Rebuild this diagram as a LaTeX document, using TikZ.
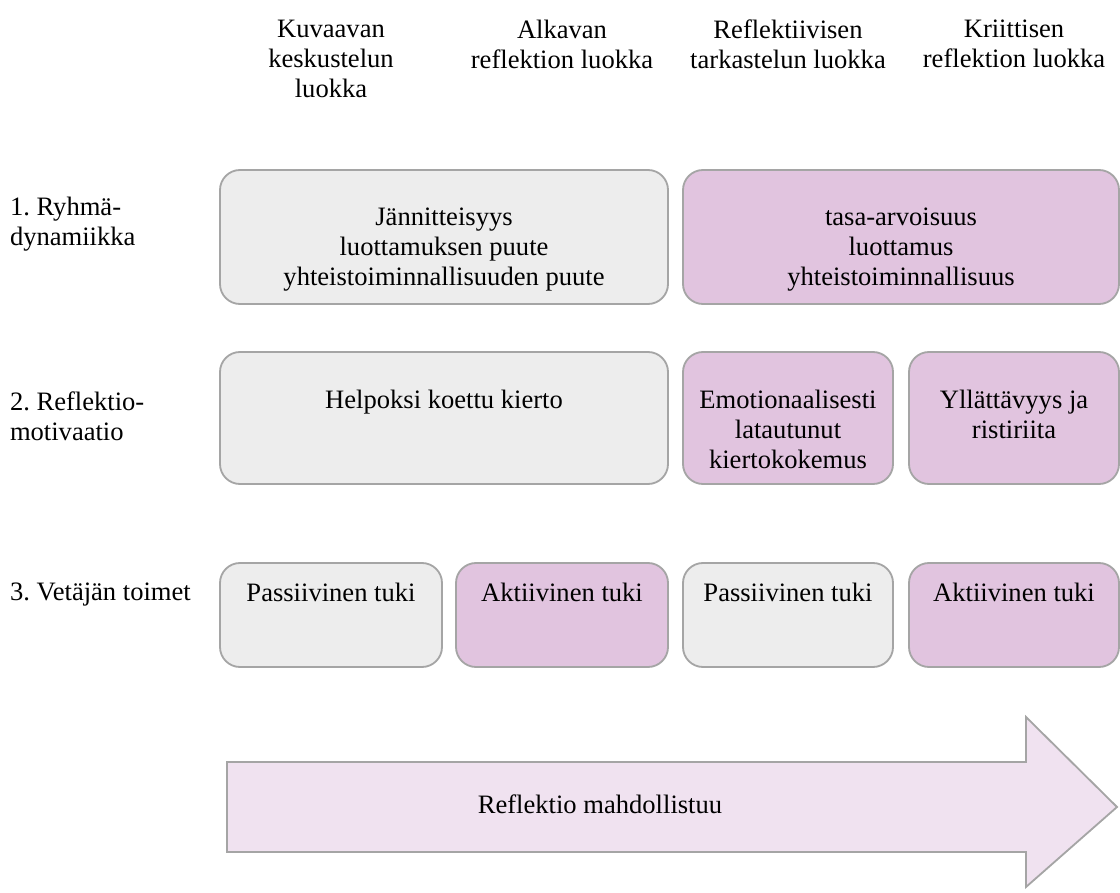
\documentclass[tikz,border=0pt]{standalone}
\usepackage{fontspec}
\setmainfont{Liberation Serif}
\usetikzlibrary{positioning}
\definecolor{boxgray}{RGB}{237,237,237}
\definecolor{boxlila}{RGB}{225,196,223}
\definecolor{arrowlila}{RGB}{240,226,240}
\definecolor{edgegray}{RGB}{165,165,165}
\frenchspacing
\begin{document}
\begin{tikzpicture}[inner sep=0pt,outer sep=0pt,
font=\fontsize{18.9}{21.3}\selectfont,
box/.style={draw=edgegray,line width=1.3pt,rounded corners=0.5cm,rectangle},
graybox/.style={box,fill=boxgray},
lilabox/.style={box,fill=boxlila},
txt/.style={align=center}]
\useasboundingbox (0,0) rectangle (28,-22.325);

% luokat
\draw (8.275,-0.5) node[txt,anchor=north] (h1) {Kuvaavan\\keskustelun\\luokka};
\draw (14.05,-0.5) node[txt,anchor=north] (h2) {Alkavan\\reflektion luokka};
\draw (19.7,-0.5) node[txt,anchor=north] (h3) {Reflektiivisen\\tarkastelun luokka};
\draw (25.35,-0.5) node[txt,anchor=north] (h4) {Kriittisen\\reflektion luokka};

% rivit
\draw (0.25,-4.925) node[align=left,anchor=north west] (r1) {1. Ryhmä-\\dynamiikka};
\draw (0.25,-9.8) node[align=left,anchor=north west] (r2) {2. Reflektio-\\motivaatio};
\draw (0.25,-14.575) node[align=left,anchor=north west] (r3) {3. Vetäjän toimet};

% 1. ryhmädynamiikka
\draw (11.1,-5.925) node[graybox,minimum width=11.2cm,minimum height=3.35cm] (g1) {};
\draw (22.525,-5.925) node[lilabox,minimum width=10.9cm,minimum height=3.35cm] (l1) {};
\node[txt,below=0.95cm of g1.north] (g1t) {Jännitteisyys\\luottamuksen puute\\yhteistoiminnallisuuden puute};
\node[txt,below=0.95cm of l1.north] (l1t) {tasa-arvoisuus\\luottamus\\yhteistoiminnallisuus};

% 2. reflektiomotivaatio
\draw (11.1,-10.45) node[graybox,minimum width=11.2cm,minimum height=3.3cm] (g2) {};
\draw (19.7,-10.45) node[lilabox,minimum width=5.25cm,minimum height=3.3cm] (l2a) {};
\draw (25.35,-10.45) node[lilabox,minimum width=5.25cm,minimum height=3.3cm] (l2b) {};
\node[txt,below=0.95cm of g2.north] (g2t) {Helpoksi koettu kierto};
\node[txt,below=0.95cm of l2a.north] (l2at) {Emotionaalisesti\\latautunut\\kiertokokemus};
\node[txt,below=0.95cm of l2b.north] (l2bt) {Yllättävyys ja\\ristiriita};

% 3. vetäjän toimet
\draw (8.275,-15.375) node[graybox,minimum width=5.55cm,minimum height=2.6cm] (g3a) {};
\draw (14.05,-15.375) node[lilabox,minimum width=5.3cm,minimum height=2.6cm] (l3a) {};
\draw (19.7,-15.375) node[graybox,minimum width=5.25cm,minimum height=2.6cm] (g3b) {};
\draw (25.35,-15.375) node[lilabox,minimum width=5.25cm,minimum height=2.6cm] (l3b) {};
\node[txt,below=0.5cm of g3a.north] (g3at) {Passiivinen tuki};
\node[txt,below=0.5cm of l3a.north] (l3at) {Aktiivinen tuki};
\node[txt,below=0.5cm of g3b.north] (g3bt) {Passiivinen tuki};
\node[txt,below=0.5cm of l3b.north] (l3bt) {Aktiivinen tuki};

% nuoli
\draw[draw=edgegray,line width=1.3pt,fill=arrowlila] (5.675,-19.05) -- (25.65,-19.05) -- (25.65,-17.925)
  -- (27.925,-20.175) -- (25.65,-22.175) -- (25.65,-21.3) -- (5.675,-21.3) -- cycle;
\draw (15,-20.1) node (arr) {Reflektio mahdollistuu};

\end{tikzpicture}
\end{document}
